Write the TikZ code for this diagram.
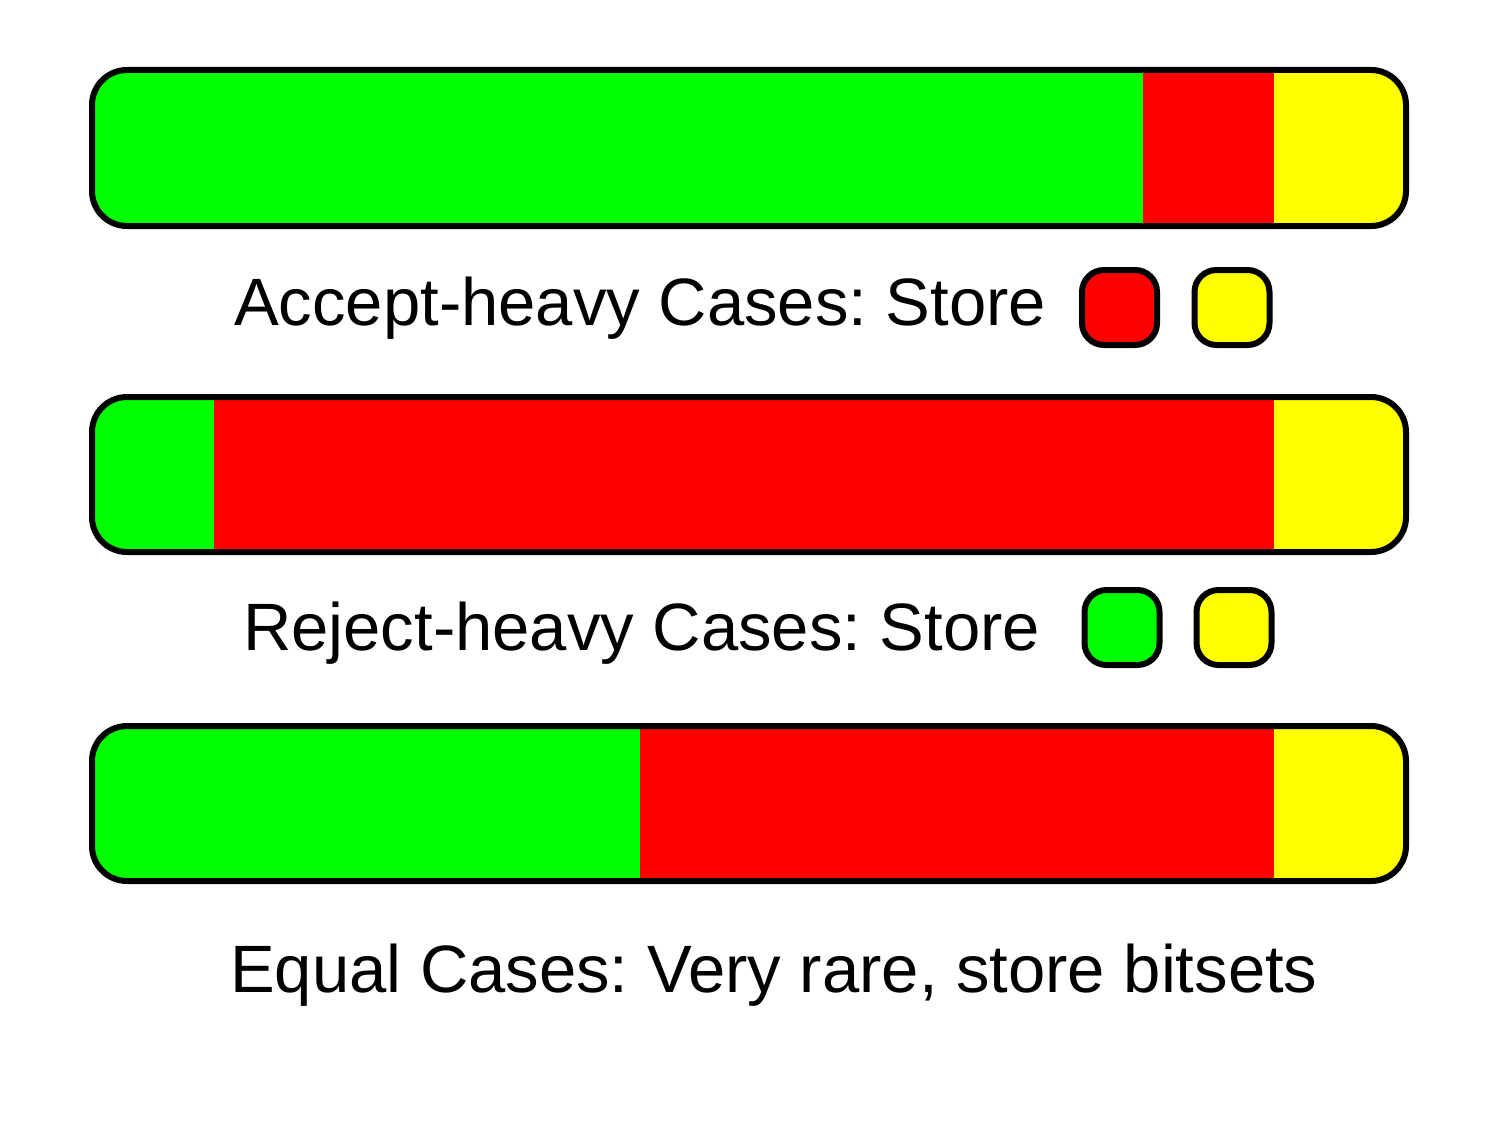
\documentclass[tikz,border=0pt]{standalone}
\usepackage{fontspec}
\setmainfont{Liberation Sans}
\frenchspacing
\definecolor{bgreen}{RGB}{0,255,0}
\definecolor{bred}{RGB}{255,0,0}
\definecolor{byellow}{RGB}{255,255,0}
\tikzset{
  outline/.style={draw=black, line width=6pt, rounded corners=35pt},
  chip/.style={draw=black, line width=6pt, rounded corners=22pt, minimum width=75pt, minimum height=75pt, inner sep=0pt},
  caption/.style={anchor=base west, inner sep=0pt, font=\fontsize{67}{80}\selectfont}
}
\newcommand{\barrow}[4]{%
  % #1 top y, #2 bottom y, #3 green/red split x, #4 red/yellow split x
  \begin{scope}
    \clip[rounded corners=35pt] (92,#1) rectangle (1406,#2);
    \fill[bgreen] (80,#1-5) rectangle (#3,#2+5);
    \fill[bred] (#3,#1-5) rectangle (#4,#2+5);
    \fill[byellow] (#4,#1-5) rectangle (1420,#2+5);
  \end{scope}
  \draw[outline] (92,#1) rectangle (1406,#2);
}
\begin{document}
\begin{tikzpicture}[x=1pt,y=-1pt]
\useasboundingbox (0,0) rectangle (1494,1124);
\barrow{70}{226}{1143}{1274}
\barrow{397}{552}{214}{1274}
\barrow{726}{881}{640}{1274}

\node[caption] (t1) at (234,325) {Accept-heavy Cases: Store};
\node[chip, fill=bred] (c1a) at (1119.5,307.5) {};
\node[chip, fill=byellow] (c1b) at (1232,307.5) {};

\node[caption] (t2) at (243,650) {Reject-heavy Cases: Store};
\node[chip, fill=bgreen] (c2a) at (1122,627.5) {};
\node[chip, fill=byellow] (c2b) at (1234,627.5) {};

\node[caption] (t3) at (230,992) {Equal Cases: Very rare, store bitsets};
\end{tikzpicture}
\end{document}
